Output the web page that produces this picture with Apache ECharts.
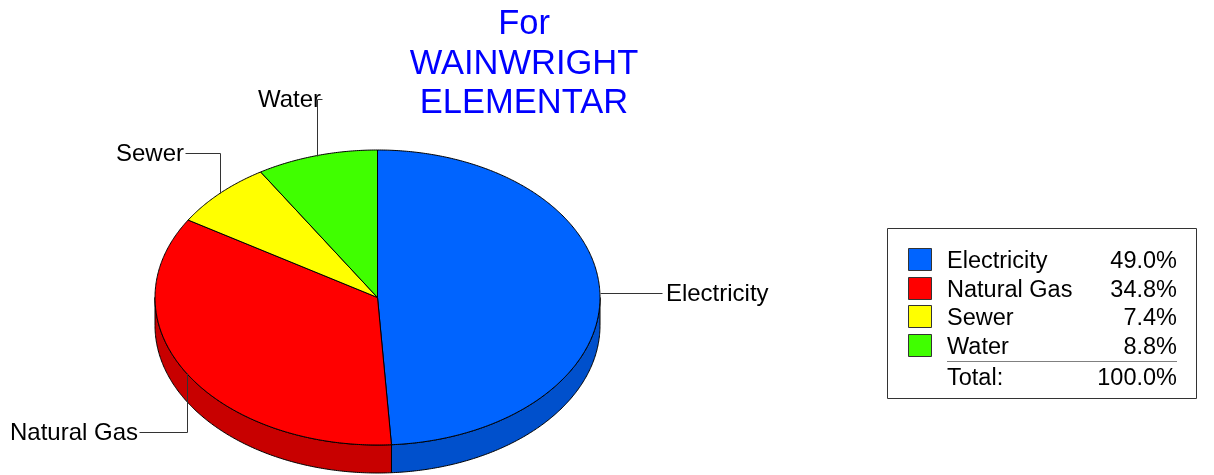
<!DOCTYPE html>
<html>
<head>
<meta charset="utf-8">
<script src="https://cdn.jsdelivr.net/npm/echarts@6/dist/echarts.min.js"></script>
<style>
  html, body { margin: 0; padding: 0; background: #ffffff; }
  #chart { width: 1214px; height: 475px; }
</style>
</head>
<body>
<div id="chart"></div>
<script>
// Utility cost shares
const categories = ['Electricity', 'Natural Gas', 'Sewer', 'Water'];
const shares = [49.0, 34.8, 7.4, 8.8];
const titleLines = ['For', 'WAINWRIGHT', 'ELEMENTAR'];
const totalLabel = 'Total:';

// Face colours (top) and darker wall colours (side)
const topColors = ['#0064ff', '#ff0000', '#ffff00', '#40ff00'];
const sideColors = ['#0050cc', '#c80000', '#c8c800', '#30c800'];

// Tilted pie geometry (pixels)
const PIE = { cx: 377.5, cy: 297.5, rx: 222.5, ry: 147.5, depth: 28 };

// Callout routing for each slice
const CALLOUT = [
  { dir: 'right', len: 62 },
  { dir: 'left', y: 432, x: 139 },
  { dir: 'left', y: 153, x: 185 },
  { dir: 'left', y: 99, x: 322 }
];

const FONT = '"Liberation Sans", Arial, sans-serif';
const TEXT_DY = 1.5; // optical centring of labels on their leader lines
const total = shares.reduce((a, b) => a + b, 0);
const starts = [];
shares.reduce((acc, v) => { starts.push(acc); return acc + v; }, 0);

// angle measured clockwise from 12 o'clock
function pt(theta, dy) {
  return [PIE.cx + PIE.rx * Math.sin(theta), PIE.cy - PIE.ry * Math.cos(theta) + (dy || 0)];
}
function arc(a0, a1, dy) {
  const n = Math.max(2, Math.ceil(Math.abs(a1 - a0) / (Math.PI / 360)));
  const out = [];
  for (let k = 0; k <= n; k++) out.push(pt(a0 + (a1 - a0) * k / n, dy));
  return out;
}

function renderSlice(params, api) {
  const i = params.dataIndex;
  const v = api.value(0);
  const a0 = starts[i] / total * Math.PI * 2;
  const a1 = a0 + v / total * Math.PI * 2;
  const children = [];

  // visible wall: front half of the rim
  const s0 = Math.max(a0, Math.PI / 2);
  const s1 = Math.min(a1, Math.PI * 1.5);
  if (s1 > s0) {
    children.push({
      type: 'polygon',
      z2: 1,
      shape: { points: arc(s0, s1, 0).concat(arc(s1, s0, PIE.depth)) },
      style: { fill: sideColors[i], stroke: '#000', lineWidth: 1 }
    });
  }

  // top face
  children.push({
    type: 'polygon',
    z2: 5,
    shape: { points: [[PIE.cx, PIE.cy]].concat(arc(a0, a1, 0)) },
    style: { fill: topColors[i], stroke: '#000', lineWidth: 1 }
  });

  // callout line and label
  const p = pt((a0 + a1) / 2, 0);
  const c = CALLOUT[i];
  let pts, tx, ty, align;
  if (c.dir === 'right') {
    pts = [p, [p[0] + c.len, p[1]]];
    tx = p[0] + c.len + 4; ty = p[1]; align = 'left';
  } else {
    pts = [p, [p[0], c.y], [c.x, c.y]];
    tx = c.x - 1; ty = c.y; align = 'right';
  }
  children.push({
    type: 'polyline',
    z2: 10,
    shape: { points: pts.map(q => [Math.round(q[0]) + 0.5, Math.round(q[1]) + 0.5]) },
    style: { stroke: '#333', lineWidth: 1, fill: null }
  });
  children.push({
    type: 'text',
    z2: 11,
    style: {
      text: categories[i], x: tx, y: ty + TEXT_DY,
      align: align, verticalAlign: 'middle',
      font: '24px ' + FONT, fill: '#000'
    }
  });

  return { type: 'group', children: children };
}

// Legend box with shares and total
const LEG = { x: 887.5, y: 228.5, w: 309, h: 170, sq: 908.5, name: 947, val: 1177, row0: 260, step: 28.5 };
const legendEls = [{
  type: 'rect',
  shape: { x: LEG.x, y: LEG.y, width: LEG.w, height: LEG.h },
  style: { fill: '#fff', stroke: '#333', lineWidth: 1 }
}];
categories.forEach((name, i) => {
  const yc = LEG.row0 + i * LEG.step;
  legendEls.push({
    type: 'rect',
    shape: { x: LEG.sq, y: Math.round(yc - 11) - 0.5, width: 23, height: 22 },
    style: { fill: topColors[i], stroke: '#333', lineWidth: 1 }
  });
  legendEls.push({
    type: 'text',
    style: { text: name, x: LEG.name, y: yc + 2, verticalAlign: 'middle', font: '23.5px ' + FONT, fill: '#000' }
  });
  legendEls.push({
    type: 'text',
    style: { text: shares[i].toFixed(1) + '%', x: LEG.val, y: yc + 2, align: 'right', verticalAlign: 'middle', font: '23.5px ' + FONT, fill: '#000' }
  });
});
const sepY = LEG.row0 + (categories.length - 0.5) * LEG.step + 1.5;
legendEls.push({
  type: 'line',
  shape: { x1: LEG.name, y1: Math.round(sepY) + 0.5, x2: LEG.val, y2: Math.round(sepY) + 0.5 },
  style: { stroke: '#808080', lineWidth: 1 }
});
const totalY = LEG.row0 + categories.length * LEG.step + 3;
legendEls.push({
  type: 'text',
  style: { text: totalLabel, x: LEG.name, y: totalY + 2, verticalAlign: 'middle', font: '23.5px ' + FONT, fill: '#000' }
});
legendEls.push({
  type: 'text',
  style: { text: total.toFixed(1) + '%', x: LEG.val, y: totalY + 2, align: 'right', verticalAlign: 'middle', font: '23.5px ' + FONT, fill: '#000' }
});

const chart = echarts.init(document.getElementById('chart'), null, { renderer: 'canvas' });
chart.setOption({
  animation: false,
  backgroundColor: '#ffffff',
  graphic: [
    {
      type: 'text',
      x: 524, y: 5,
      style: {
        text: titleLines.join('\n'),
        align: 'center', verticalAlign: 'top',
        font: '34.5px ' + FONT, lineHeight: 39.5, fill: '#0000ff'
      }
    },
    { type: 'group', children: legendEls }
  ],
  series: [{
    type: 'custom',
    coordinateSystem: 'none',
    renderItem: renderSlice,
    data: shares.map((v, i) => ({ name: categories[i], value: [v] }))
  }]
});
</script>
</body>
</html>
